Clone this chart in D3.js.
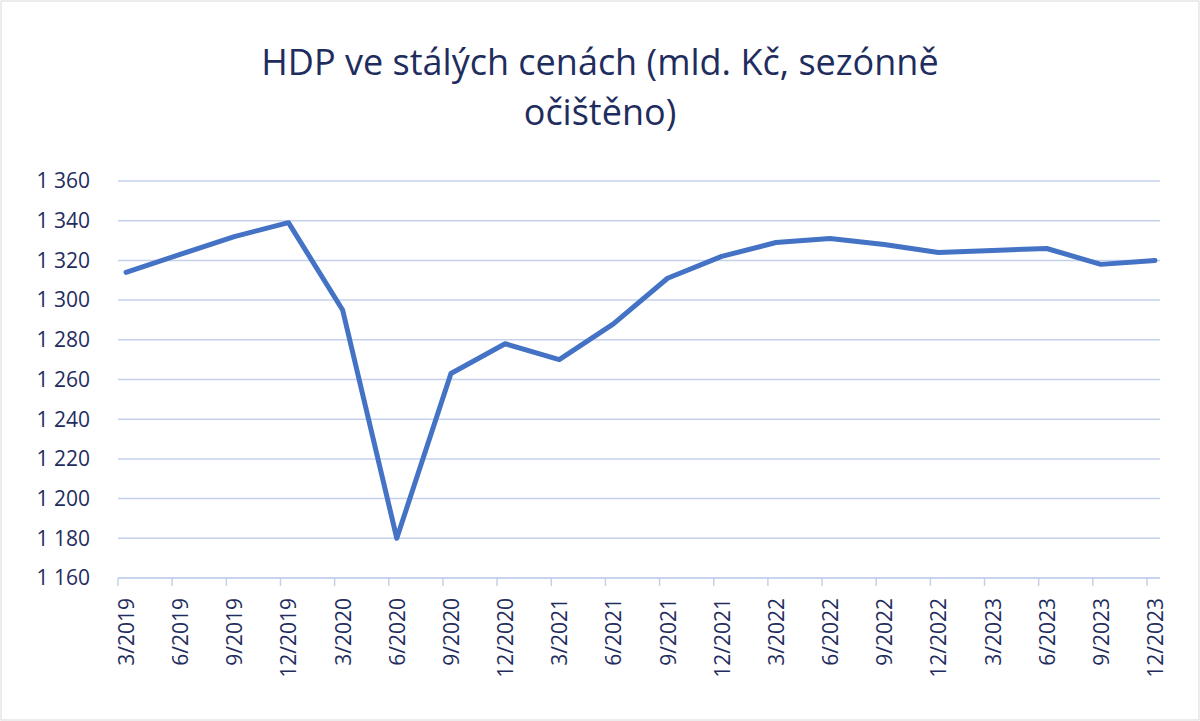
<!DOCTYPE html>
<html><head><meta charset="utf-8">
<script src="https://cdn.jsdelivr.net/npm/d3@7"></script>
<style>body{margin:0;background:#fff}svg{display:block}</style>
</head><body><svg id="c" width="1200" height="721"></svg>
<script>
const categories=["3/2019","6/2019","9/2019","12/2019","3/2020","6/2020","9/2020","12/2020","3/2021","6/2021","9/2021","12/2021","3/2022","6/2022","9/2022","12/2022","3/2023","6/2023","9/2023","12/2023"];
const values=[1314,1323,1332,1339,1295,1180,1263,1278,1270,1288,1311,1322,1329,1331,1328,1324,1325,1326,1318,1320];
const yTicks=[1160,1180,1200,1220,1240,1260,1280,1300,1320,1340,1360];
const title=["HDP ve stálých cenách (mld. Kč, sezónně","očištěno)"];
const svg=d3.select("#c");
const txt="#1f2d5e", font="'Open Sans', 'Liberation Sans', sans-serif";
svg.append("rect").attr("x",1).attr("y",1).attr("width",1198).attr("height",719).attr("fill","#fff").attr("stroke","#d9d9d9");
const x=d3.scalePoint().domain(categories).range([126,1155]);
const y=d3.scaleLinear().domain([1160,1360]).range([578,181]);
const L=118,R=1160;
svg.append("g").selectAll("line").data(yTicks).join("line")
 .attr("x1",L).attr("x2",R).attr("y1",d=>y(d)).attr("y2",d=>y(d))
 .attr("stroke","#c5d0ec").attr("stroke-width",1.5);
const fmt=d=>d3.format(",")(d).replace(","," ");
svg.append("g").selectAll("text").data(yTicks).join("text")
 .attr("x",90).attr("y",d=>y(d)).attr("dy","0.35em").attr("text-anchor","end")
 .attr("font-family",font).attr("font-size",21).attr("fill",txt).text(fmt);
// x ticks
svg.append("g").selectAll("line").data(categories).join("line")
 .attr("x1",d=>x(d)-8).attr("x2",d=>x(d)-8).attr("y1",578).attr("y2",586)
 .attr("stroke","#c5d0ec").attr("stroke-width",1.5);
svg.append("line").attr("x1",L).attr("x2",R).attr("y1",578).attr("y2",578).attr("stroke","#c5d0ec").attr("stroke-width",1.5);
svg.append("g").selectAll("text").data(categories).join("text")
 .attr("transform",d=>`translate(${x(d)+8},598) rotate(-90)`)
 .attr("text-anchor","end").attr("font-family",font).attr("font-size",21).attr("fill",txt).text(d=>d);
svg.append("path").datum(values)
 .attr("d",d3.line().x((d,i)=>x(categories[i])).y(d=>y(d)))
 .attr("fill","none").attr("stroke","#4472c4").attr("stroke-width",5).attr("stroke-linejoin","round").attr("stroke-linecap","round");
svg.append("g").selectAll("text").data(title).join("text")
 .attr("x",600).attr("y",(d,i)=>75+i*50).attr("text-anchor","middle")
 .attr("font-family",font).attr("font-size",36).attr("fill",txt).text(d=>d);
</script></body></html>
